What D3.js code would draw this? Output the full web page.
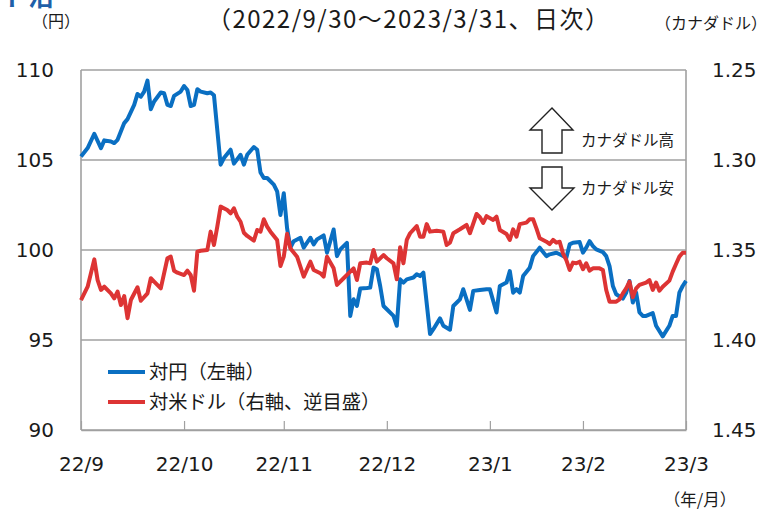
<!DOCTYPE html>
<html><head><meta charset="utf-8">
<script src="https://cdn.jsdelivr.net/npm/d3@7"></script>
<style>
html,body{margin:0;padding:0;background:#fff;}
svg{display:block;}
text{font-family:"Noto Sans CJK JP","Noto Sans",sans-serif;fill:#1a1a1a;}
.num{font-family:"DejaVu Sans",sans-serif;}
</style></head>
<body><svg id="c" width="767" height="512"></svg>
<script>
// ---- data ----
const jpyDates = ["2022-09-30","2022-10-02","2022-10-04","2022-10-06","2022-10-07","2022-10-09","2022-10-10","2022-10-11","2022-10-13","2022-10-14","2022-10-16","2022-10-17","2022-10-18","2022-10-19","2022-10-20","2022-10-21","2022-10-22","2022-10-24","2022-10-25","2022-10-26","2022-10-27","2022-10-28","2022-10-30","2022-10-31",
"2022-11-01","2022-11-02","2022-11-03","2022-11-04","2022-11-05","2022-11-07","2022-11-08","2022-11-09","2022-11-11","2022-11-12","2022-11-14","2022-11-15","2022-11-17","2022-11-18","2022-11-19","2022-11-21","2022-11-22","2022-11-23","2022-11-24","2022-11-25","2022-11-27","2022-11-28","2022-11-29","2022-11-30",
"2022-12-01","2022-12-02","2022-12-03","2022-12-05","2022-12-06","2022-12-08","2022-12-09","2022-12-10","2022-12-12","2022-12-13","2022-12-15","2022-12-16","2022-12-17","2022-12-19","2022-12-20","2022-12-21","2022-12-22","2022-12-23","2022-12-25","2022-12-26","2022-12-27","2022-12-28","2022-12-29","2022-12-30","2022-12-31",
"2023-01-02","2023-01-03","2023-01-04","2023-01-05","2023-01-06","2023-01-08","2023-01-09","2023-01-10","2023-01-11","2023-01-13","2023-01-14","2023-01-16","2023-01-17","2023-01-19","2023-01-20","2023-01-22","2023-01-23","2023-01-25","2023-01-26","2023-01-28","2023-01-30","2023-01-31",
"2023-02-02","2023-02-03","2023-02-05","2023-02-06","2023-02-07","2023-02-08","2023-02-09","2023-02-10","2023-02-12","2023-02-13","2023-02-15","2023-02-17","2023-02-18","2023-02-20","2023-02-21","2023-02-23","2023-02-24","2023-02-25","2023-02-27","2023-02-28",
"2023-03-01","2023-03-02","2023-03-03","2023-03-04","2023-03-06","2023-03-07","2023-03-08","2023-03-09","2023-03-10","2023-03-12","2023-03-13","2023-03-14","2023-03-15","2023-03-16","2023-03-17","2023-03-18","2023-03-19","2023-03-21","2023-03-22","2023-03-24","2023-03-26","2023-03-27","2023-03-28","2023-03-29","2023-03-30","2023-03-31"];
const jpyValues = [105.20,105.66,106.46,105.66,106.09,106.03,105.94,106.12,107.05,107.27,108.06,108.67,108.52,108.80,109.41,107.82,108.25,108.75,108.71,108.06,108.00,108.56,108.80,109.11,
108.89,108.00,108.06,108.93,108.80,108.71,108.75,108.60,104.74,105.11,105.57,104.80,105.29,104.74,105.29,105.72,105.57,104.31,104.00,104.00,103.63,103.26,101.95,103.15,
101.20,100.13,100.49,100.68,100.13,100.68,100.31,100.59,100.81,99.85,101.14,99.66,100.03,100.40,96.34,97.26,96.89,97.86,97.89,97.91,99.02,98.93,98.00,96.89,96.71,
96.34,95.79,98.37,98.19,98.37,98.47,98.65,98.55,98.74,95.33,95.60,96.20,95.79,95.57,96.89,97.26,97.82,96.67,97.73,97.78,97.82,97.82,
96.53,98.00,98.19,98.83,97.63,97.82,97.63,98.55,99.02,99.66,100.13,99.66,99.76,99.85,99.76,99.57,100.31,100.40,100.44,99.85,
100.13,100.49,100.22,100.03,99.88,99.66,99.11,98.00,97.54,97.30,97.63,98.28,97.08,97.63,96.53,96.34,96.34,96.49,95.79,95.20,95.79,96.34,96.34,97.63,98.00,98.28];

const usdDates = ["2022-09-30","2022-10-02","2022-10-04","2022-10-05","2022-10-06","2022-10-07","2022-10-09","2022-10-10","2022-10-11","2022-10-12","2022-10-13","2022-10-14","2022-10-15","2022-10-17","2022-10-18","2022-10-20","2022-10-21","2022-10-22","2022-10-24","2022-10-26","2022-10-27","2022-10-28","2022-10-29","2022-10-31",
"2022-11-01","2022-11-02","2022-11-03","2022-11-04","2022-11-05","2022-11-07","2022-11-08","2022-11-09","2022-11-10","2022-11-11","2022-11-13","2022-11-14","2022-11-15","2022-11-16","2022-11-17","2022-11-18","2022-11-19","2022-11-21","2022-11-22","2022-11-23","2022-11-24","2022-11-25","2022-11-26","2022-11-28","2022-11-29","2022-11-30",
"2022-12-01","2022-12-02","2022-12-04","2022-12-06","2022-12-08","2022-12-09","2022-12-11","2022-12-12","2022-12-13","2022-12-15","2022-12-16","2022-12-18","2022-12-20","2022-12-21","2022-12-22","2022-12-23","2022-12-25","2022-12-26","2022-12-27","2022-12-28","2022-12-30","2022-12-31",
"2023-01-02","2023-01-03","2023-01-04","2023-01-05","2023-01-06","2023-01-07","2023-01-09","2023-01-10","2023-01-11","2023-01-12","2023-01-13","2023-01-15","2023-01-17","2023-01-18","2023-01-19","2023-01-20","2023-01-22","2023-01-24","2023-01-25","2023-01-27","2023-01-28","2023-01-29","2023-01-30",
"2023-02-01","2023-02-02","2023-02-03","2023-02-05","2023-02-06","2023-02-07","2023-02-08","2023-02-09","2023-02-11","2023-02-12","2023-02-13","2023-02-14","2023-02-15","2023-02-17","2023-02-18","2023-02-19","2023-02-20","2023-02-21","2023-02-22","2023-02-23","2023-02-24","2023-02-25","2023-02-26","2023-02-27","2023-02-28",
"2023-03-01","2023-03-02","2023-03-03","2023-03-05","2023-03-06","2023-03-07","2023-03-08","2023-03-10","2023-03-11","2023-03-12","2023-03-13","2023-03-14","2023-03-15","2023-03-16","2023-03-17","2023-03-19","2023-03-20","2023-03-21","2023-03-22","2023-03-23","2023-03-24","2023-03-26","2023-03-27","2023-03-28","2023-03-29","2023-03-30","2023-03-31"];
const usdValues = [1.3778,1.3704,1.3552,1.3667,1.3722,1.3704,1.3741,1.3769,1.3731,1.3806,1.3756,1.3879,1.3778,1.3707,1.3782,1.3741,1.3657,1.3676,1.3713,1.3546,1.3537,1.3615,1.3626,1.3639,
1.3615,1.3639,1.3726,1.3509,1.3504,1.3500,1.3398,1.3472,1.3370,1.3259,1.3278,1.3296,1.3268,1.3315,1.3343,1.3404,1.3422,1.3448,1.3389,1.3398,1.3329,1.3370,1.3398,1.3444,1.3589,1.3537,
1.3410,1.3491,1.3537,1.3648,1.3565,1.3611,1.3629,1.3648,1.3537,1.3602,1.3694,1.3657,1.3620,1.3602,1.3667,1.3574,1.3570,1.3574,1.3500,1.3565,1.3528,1.3546,
1.3574,1.3663,1.3485,1.3574,1.3444,1.3407,1.3367,1.3426,1.3426,1.3356,1.3398,1.3393,1.3398,1.3472,1.3459,1.3407,1.3385,1.3361,1.3407,1.3300,1.3318,1.3350,1.3312,
1.3333,1.3315,1.3389,1.3411,1.3444,1.3385,1.3426,1.3356,1.3348,1.3329,1.3329,1.3380,1.3435,1.3454,1.3467,1.3444,1.3459,1.3454,1.3519,1.3556,1.3611,1.3570,1.3574,1.3565,1.3607,
1.3574,1.3615,1.3602,1.3602,1.3611,1.3722,1.3787,1.3787,1.3774,1.3741,1.3713,1.3676,1.3763,1.3713,1.3694,1.3681,1.3667,1.3722,1.3681,1.3726,1.3704,1.3670,1.3620,1.3578,1.3537,1.3515,1.3515];

const xTickDates = ["2022-09-30","2022-10-31","2022-11-30","2022-12-31","2023-01-31","2023-02-28","2023-03-31"];
const xTickLabels = ["22/9","22/10","22/11","22/12","23/1","23/2","23/3"];
const leftTicks = [90,95,100,105,110];
const rightTicks = [1.25,1.30,1.35,1.40,1.45];
const seriesNames = ["対円（左軸）","対米ドル（右軸、逆目盛）"];
const seriesColors = ["#0a6fc2","#dd3434"];

// ---- chart ----
const parse = d3.timeParse("%Y-%m-%d");
const svg = d3.select("#c");
const L = 81, R = 686, T = 70, B = 430;
const x = d3.scaleTime().domain([parse("2022-09-30"), parse("2023-03-31")]).range([L, R]);
const yL = d3.scaleLinear().domain([90,110]).range([B, T]);
const yR = d3.scaleLinear().domain([1.25,1.45]).range([T, B]);
const grid = "#a0a0a0";

// gridlines
svg.append("g").selectAll("line").data(leftTicks).join("line")
  .attr("x1", L).attr("x2", R).attr("y1", d=>yL(d)).attr("y2", d=>yL(d))
  .attr("stroke", grid).attr("stroke-width", 1.6);
// border
svg.append("line").attr("x1",L).attr("x2",L).attr("y1",T).attr("y2",B).attr("stroke",grid).attr("stroke-width",1.6);
svg.append("line").attr("x1",R).attr("x2",R).attr("y1",T).attr("y2",B).attr("stroke",grid).attr("stroke-width",1.6);

// x axis
const xAxis = d3.axisBottom(x).tickValues(xTickDates.map(parse))
  .tickFormat((d,i)=>xTickLabels[i]).tickSizeInner(-9).tickSizeOuter(0).tickPadding(27);
const gx = svg.append("g").attr("transform",`translate(0,${B})`).call(xAxis);
gx.select(".domain").attr("stroke", grid).attr("stroke-width",1.6);
gx.selectAll(".tick line").attr("stroke", grid).attr("stroke-width",1.2);
gx.selectAll(".tick text").attr("class","num").attr("font-size",20).attr("fill","#1a1a1a");

// left axis
const gl = svg.append("g").attr("transform",`translate(${L},0)`)
  .call(d3.axisLeft(yL).tickValues(leftTicks).tickFormat(d3.format("d")).tickSize(0).tickPadding(27));
gl.select(".domain").remove();
gl.selectAll(".tick text").attr("class","num").attr("font-size",20).attr("fill","#1a1a1a");

// right axis
const gr = svg.append("g").attr("transform",`translate(${R},0)`)
  .call(d3.axisRight(yR).tickValues(rightTicks).tickFormat(d3.format(".2f")).tickSize(0).tickPadding(26));
gr.select(".domain").remove();
gr.selectAll(".tick text").attr("class","num").attr("font-size",20).attr("fill","#1a1a1a");

// lines
const jpy = jpyDates.map((d,i)=>({d:parse(d), v:jpyValues[i]}));
const usd = usdDates.map((d,i)=>({d:parse(d), v:usdValues[i]}));
svg.append("path").datum(jpy).attr("fill","none").attr("stroke",seriesColors[0]).attr("stroke-width",4)
  .attr("stroke-linejoin","round").attr("d", d3.line().x(p=>x(p.d)).y(p=>yL(p.v)));
svg.append("path").datum(usd).attr("fill","none").attr("stroke",seriesColors[1]).attr("stroke-width",4)
  .attr("stroke-linejoin","round").attr("d", d3.line().x(p=>x(p.d)).y(p=>yR(p.v)));

// legend
const lg = svg.append("g");
seriesNames.forEach((n,i)=>{
  const yy = 372 + i*30;
  lg.append("line").attr("x1",108).attr("x2",145).attr("y1",yy).attr("y2",yy)
    .attr("stroke",seriesColors[i]).attr("stroke-width",4);
  lg.append("text").attr("x",149).attr("y",yy).attr("dy","0.36em").attr("font-size",19.3).text(n);
});

// arrows
const arrowUp = "M552,108 L573,130 L562,130 L562,153 L542,153 L542,130 L530,130 Z";
const arrowDn = "M542,167 L562,167 L562,188 L574,188 L552,210 L530,188 L542,188 Z";
svg.append("path").attr("d",arrowUp).attr("fill","#fff").attr("stroke","#222").attr("stroke-width",1.4);
svg.append("path").attr("d",arrowDn).attr("fill","#fff").attr("stroke","#222").attr("stroke-width",1.4);
svg.append("text").attr("x",581).attr("y",140).attr("dy","0.36em").attr("font-size",15.5).text("カナダドル高");
svg.append("text").attr("x",581).attr("y",188).attr("dy","0.36em").attr("font-size",15.5).text("カナダドル安");

// titles
svg.append("text").attr("x",2).attr("y",6).attr("font-size",26).attr("font-weight","bold").style("fill","#1f5fa8").text("ト沿");
svg.append("text").attr("x",56).attr("y",21).attr("dy","0.36em").attr("font-size",16).attr("text-anchor","middle").text("（円）");
svg.append("text").attr("x",207).attr("y",19).attr("dy","0.36em").attr("font-size",24)
  .attr("textLength",402).attr("lengthAdjust","spacing").text("（2022/9/30～2023/3/31、日次）");
svg.append("text").attr("x",711).attr("y",23).attr("dy","0.36em").attr("font-size",16).attr("text-anchor","middle").text("（カナダドル）");
svg.append("text").attr("x",700).attr("y",500).attr("dy","0.36em").attr("font-size",16.5).attr("text-anchor","middle").text("（年/月）");
</script></body></html>
